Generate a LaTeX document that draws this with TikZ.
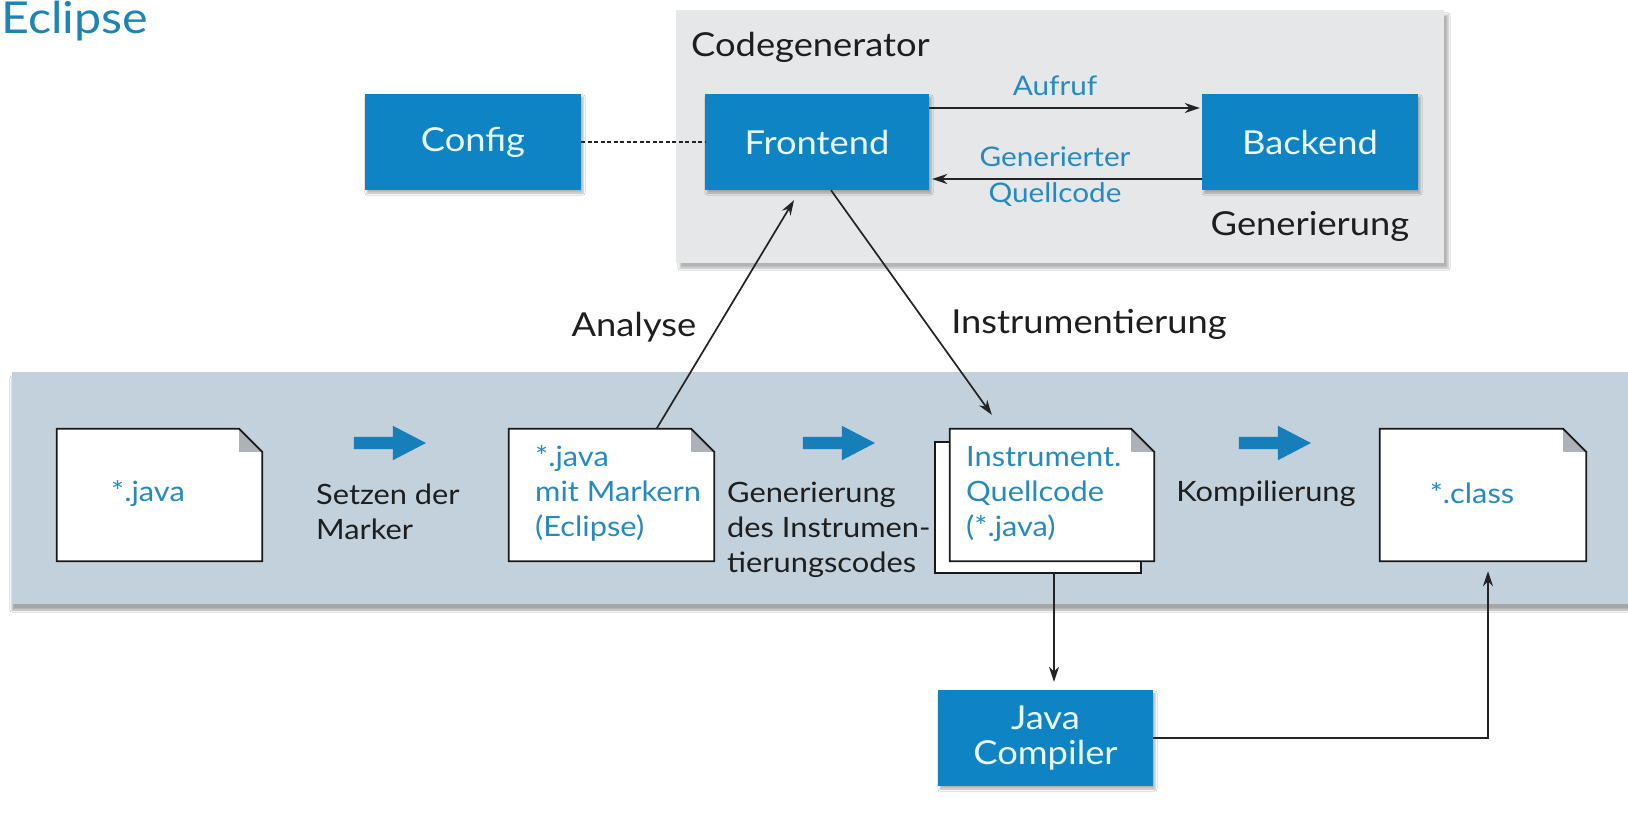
\documentclass[tikz,border=0pt]{standalone}
\usepackage{fontspec}
\setmainfont{Lato}[FakeStretch=1.1]
\usetikzlibrary{arrows.meta,shapes.arrows,shadows.blur,calc}

\definecolor{boxblue}{RGB}{14,132,196}
\definecolor{boxtext}{RGB}{236,250,255}
\definecolor{textblue}{RGB}{38,138,190}
\definecolor{titleblue}{RGB}{30,132,180}
\definecolor{arrowblue}{RGB}{22,126,184}
\definecolor{bandcol}{RGB}{194,209,220}
\definecolor{genbg}{RGB}{229,231,233}
\definecolor{foldgrey}{RGB}{172,178,184}
\definecolor{darktext}{RGB}{30,30,30}
\definecolor{linecol}{RGB}{35,35,35}

% folded sheet drawn on the bounds of a named node
\newcommand\docsheet[1]{%
  \fill[white] (#1.south west) -- (#1.north west) -- ([xshift=-23pt]#1.north east)
    -- ([yshift=-23pt]#1.north east) -- (#1.south east) -- cycle;
  \fill[foldgrey] ([xshift=-23pt]#1.north east) -- ([yshift=-23pt]#1.north east)
    -- ([xshift=-23pt,yshift=-23pt]#1.north east) -- cycle;
  \draw[docline] (#1.south west) -- (#1.north west) -- ([xshift=-23pt]#1.north east)
    -- ([yshift=-23pt]#1.north east) -- (#1.south east) -- cycle;
}

\begin{document}
\begin{tikzpicture}[x=1pt,y=-1pt,
  bluebox/.style={fill=boxblue, text=boxtext, inner sep=0pt,
    minimum width=216pt, minimum height=96pt, align=center,
    font=\fontsize{33}{35}\selectfont,
    blur shadow={shadow xshift=2pt, shadow yshift=-3pt, shadow opacity=30, shadow blur steps=5}},
  docnode/.style={inner sep=0pt, minimum width=205pt, minimum height=132pt},
  docline/.style={draw=black!90, line width=1.7pt, line join=miter},
  bigtext/.style={text=darktext, inner sep=0pt, font=\fontsize{33}{36}\selectfont},
  steptext/.style={text=darktext, inner sep=0pt, align=left, font=\fontsize{28}{35}\selectfont},
  doctext/.style={text=textblue, inner sep=0pt, align=left, font=\fontsize{28}{35}\selectfont},
  flowlabel/.style={text=textblue, inner sep=0pt, font=\fontsize{27}{33}\selectfont},
  conn/.style={draw=linecol, line width=1.7pt, -{Stealth[length=15pt,width=10pt]}},
  fatarrow/.style={single arrow, fill=arrowblue, inner sep=6pt, minimum height=72pt,
    minimum width=34pt, single arrow head extend=11pt, single arrow tip angle=55}]

\useasboundingbox (0,0) rectangle (1628,819);
\clip (0,0) rectangle (1628,819);
\fill[white] (0,0) rectangle (1628,819);

% title
\node[anchor=base west, inner sep=0pt, text=titleblue, font=\fontsize{44}{46}\selectfont]
  (title) at (1,34) {Eclipse};

% code generator panel
\node[fill=genbg, minimum width=768pt, minimum height=253pt, inner sep=0pt,
  blur shadow={shadow xshift=4pt, shadow yshift=-5pt, shadow opacity=30, shadow blur steps=6}]
  (gen) at (1060,136.5) {};
\node[bigtext, anchor=west] (genlabel) at (691,47) {Codegenerator};

\node[bluebox] (cfg) at (473,142) {Config};
\node[bluebox, minimum width=224pt] (fe) at (817,142) {Frontend};
\node[bluebox] (be) at (1310,142) {Backend};
\node[bigtext] (genr) at (1310,226) {Generierung};

\draw[linecol, line width=1.5pt, dash pattern=on 4pt off 2.5pt] (cfg.east) -- (fe.west);
\draw[conn, shorten >=2pt] ([yshift=34pt]fe.east) -- ([yshift=34pt]be.west);
\draw[conn, shorten >=3pt] ([yshift=-37pt]be.west) -- ([yshift=-37pt]fe.east);
\node[flowlabel] (aufruf) at (1055,86) {Aufruf};
\node[flowlabel] (gq1) at (1055,157) {Generierter};
\node[flowlabel] (gq2) at (1055,195) {Quellcode};

% build pipeline band
\fill[bandcol, blur shadow={shadow xshift=0pt, shadow yshift=-6pt, shadow opacity=35, shadow blur steps=6}]
  (12,372) rectangle (1660,604);

\node[docnode] (d1) at (159.5,495) {};
\node[docnode] (d2) at (611.5,495) {};
\node[docnode, minimum width=206pt, minimum height=131pt] (d3b) at (1038,507.5) {};
\node[docnode, minimum width=204pt] (d3) at (1052,495) {};
\node[docnode, minimum width=206pt] (d4) at (1483,495) {};
\docsheet{d1}
\docsheet{d2}
\draw[docline, fill=white] (d3b.south west) rectangle (d3b.north east);
\docsheet{d3}
\docsheet{d4}

\node[doctext] (t1) at (148,493) {*.java};
\node[doctext, anchor=west] (t2) at (535,493) {*.java\\mit Markern\\(Eclipse)};
\node[doctext, anchor=west] (t3) at (966,494) {Instrument.\\Quellcode\\(*.java)};
\node[doctext] (t4) at (1472,493) {*.class};

\node[fatarrow] (a1) at (384,443) {};
\node[fatarrow] (a2) at (833,443) {};
\node[fatarrow] (a3) at (1269,443) {};

\node[steptext, anchor=west] (s1) at (316,512) {Setzen der\\Marker};
\node[steptext, anchor=west] (s2) at (727,530) {Generierung\\des Instrumen-\\tierungscodes};
\node[steptext] (s3) at (1266,494) {Kompilierung};

% analysis and instrumentation
\draw[conn] ([xshift=45pt]d2.north) -- ([xshift=-23pt,yshift=-10pt]fe.south);
\draw[conn] ([xshift=14pt]fe.south) -- ([xshift=42pt,yshift=14pt]d3.north west);
\node[bigtext] (analyse) at (634,327) {Analyse};
\node[bigtext] (instr) at (1089,324) {Instrumentierung};

% compiler
\node[bluebox, minimum width=215pt] (jc) at (1045.5,738) {Java\\Compiler};
\draw[conn, shorten >=8pt] ([xshift=16pt]d3b.south) -- ([xshift=16pt]d3b.south |- jc.north);
\draw[conn, shorten >=10pt] (jc.east) -| ([xshift=5pt]d4.south);

\end{tikzpicture}
\end{document}
